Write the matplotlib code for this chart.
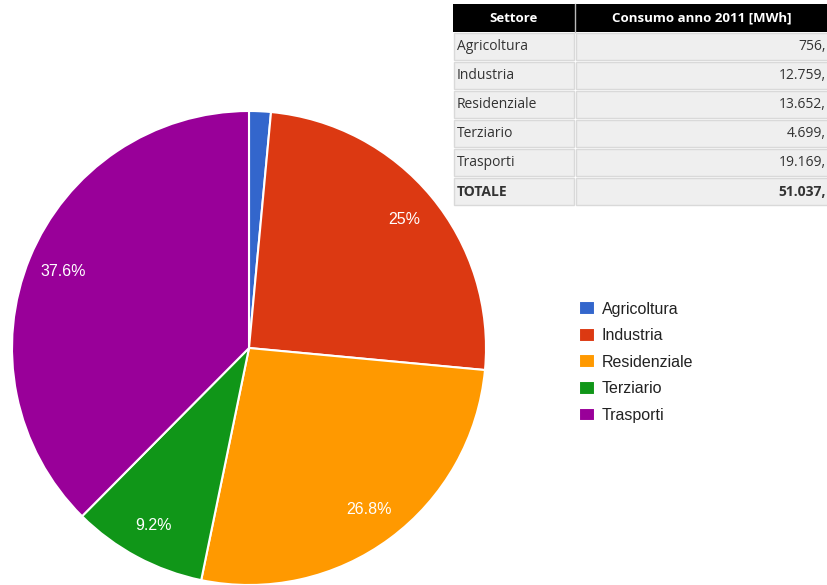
import matplotlib.pyplot as plt
from matplotlib.patches import Rectangle

# Consumo anno 2011 [MWh]
settori = ['Agricoltura', 'Industria', 'Residenziale', 'Terziario', 'Trasporti']
consumi = [756.5, 12759.4, 13652.6, 4699.3, 19169.5]
colori = ['#3366cc', '#dc3912', '#ff9900', '#109618', '#990099']
intestazione = ['Settore', 'Consumo anno 2011 [MWh]']

W, H = 828, 585
fig = plt.figure(figsize=(W / 100, H / 100), dpi=100)
fig.patch.set_facecolor('white')

# pie axes, placed in pixel coords (center ~ (249,348), r ~ 237)
cx, cy, r = 249, 348, 237
ax = fig.add_axes([(cx - r) / W, (H - cy - r) / H, 2 * r / W, 2 * r / H])


def fmt_pct(p):
    if p < 5:
        return ''
    s = f'{p:.1f}'
    if s.endswith('.0'):
        s = s[:-2]
    return s + '%'


wedges, texts, autotexts = ax.pie(
    consumi, colors=colori, startangle=90, counterclock=False, radius=1,
    autopct=fmt_pct, pctdistance=0.85,
    wedgeprops=dict(edgecolor='white', linewidth=1.5),
    textprops=dict(color='white', fontsize=11.5, family='Liberation Sans'))
ax.set_xlim(-1, 1)
ax.set_ylim(-1, 1)
ax.set_aspect('equal')
ax.axis('off')

leg = fig.legend(wedges, settori, loc='upper left',
                 bbox_to_anchor=(565 / W, 1 - 287 / H), frameon=False,
                 prop=dict(family='Liberation Sans', size=11.5),
                 handlelength=0.95, handleheight=0.95, handletextpad=0.45,
                 labelspacing=0.7, labelcolor='#222222')

# table overlay in pixel coordinates
tx = fig.add_axes([0, 0, 1, 1], zorder=5)
tx.set_xlim(0, W)
tx.set_ylim(H, 0)
tx.axis('off')

x0, x1, x2 = 453, 575, 835
row_h = 29
top = 4
tx.add_patch(Rectangle((x0, top), x2 - x0, 28, facecolor='black', edgecolor='none'))
tx.plot([x1, x1], [top, top + 28], color='#bbbbbb', lw=1)
tx.text((x0 + x1) / 2, top + 14, intestazione[0], color='white', fontsize=9.5,
        fontweight='bold', family='Open Sans', ha='center', va='center')
tx.text((x1 + 828) / 2, top + 14, intestazione[1], color='white', fontsize=9.5,
        fontweight='bold', family='Open Sans', ha='center', va='center')

righe = settori + ['TOTALE']
valori = consumi + [sum(consumi)]
y = top + 28
for nome, v in zip(righe, valori):
    bold = nome == 'TOTALE'
    for a, b in [(x0, x1), (x1, x2)]:
        tx.add_patch(Rectangle((a + 1, y + 1), b - a - 2, row_h - 2,
                               facecolor='#efefef', edgecolor='#d9d9d9', lw=1))
    testo = f'{int(v):,}'.replace(',', '.') + ','
    tx.text(x0 + 4, y + row_h / 2, nome, fontsize=10, family='Open Sans',
            fontweight='bold' if bold else 'normal', color='#333333',
            ha='left', va='center')
    tx.text(826, y + row_h / 2, testo, fontsize=10, family='Open Sans',
            fontweight='bold' if bold else 'normal', color='#333333',
            ha='right', va='center')
    y += row_h

fig.savefig('out.png', dpi=100)
